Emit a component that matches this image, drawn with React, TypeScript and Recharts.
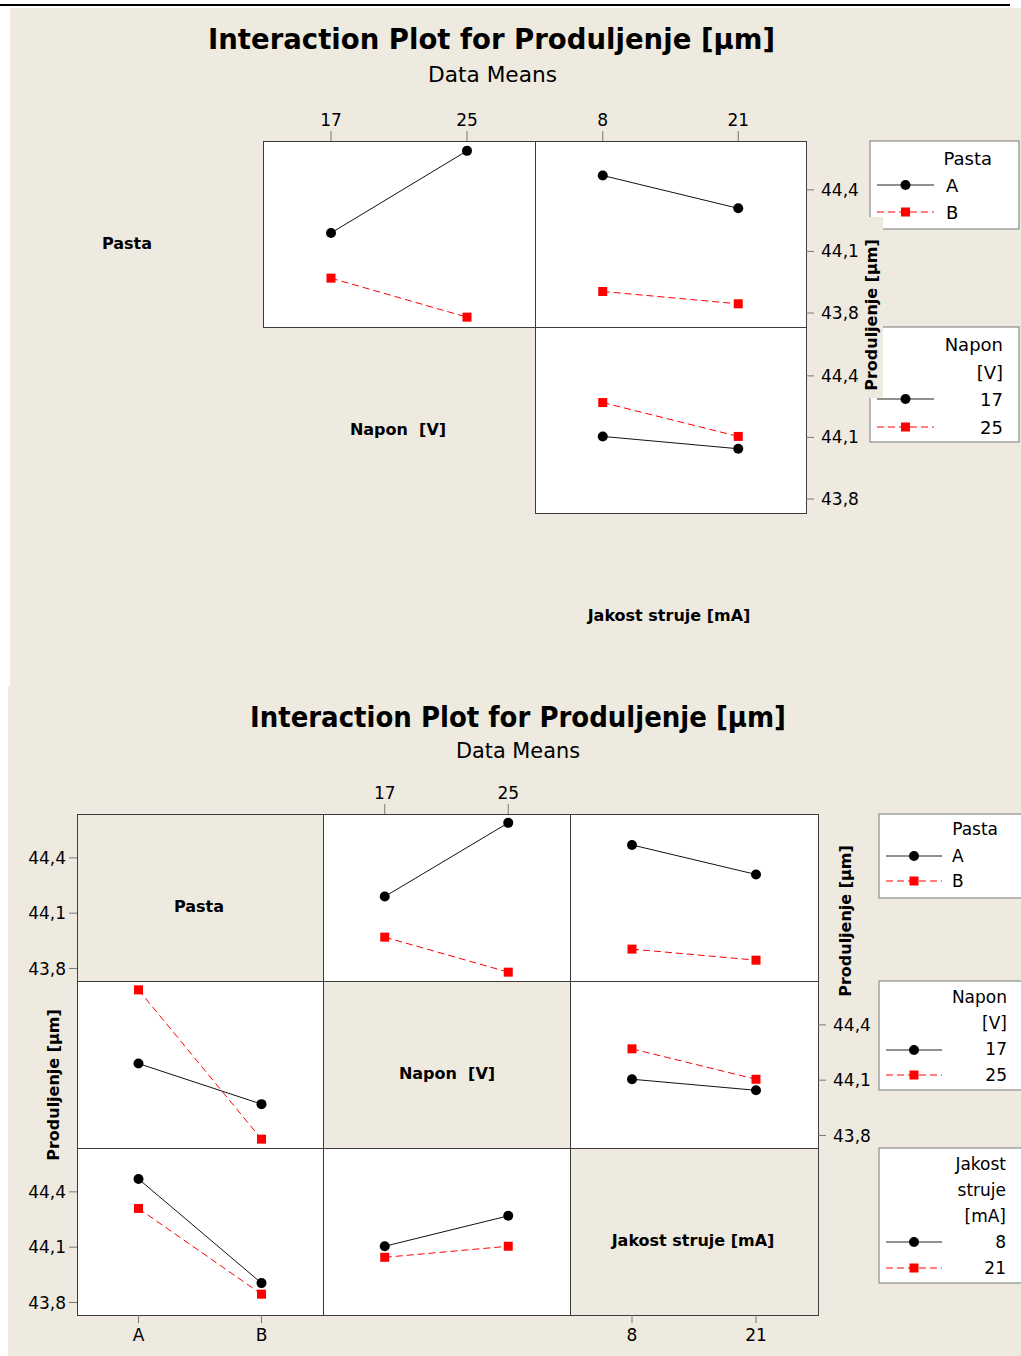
import React from 'react';
import { LineChart, Line, XAxis, YAxis } from 'recharts';

// factor levels
const pastaLevels = ['A', 'B'];
const naponLevels = ['17', '25'];
const jakostLevels = ['8', '21'];

// data means of Produljenje [µm]
// rows = levels of the first factor, columns = levels of the second factor
const pastaByNapon = [
  [44.19, 44.59], // A
  [43.97, 43.78], // B
];
const pastaByJakost = [
  [44.47, 44.31],
  [43.905, 43.845],
];
const naponByJakost = [
  [44.105, 44.045], // 17
  [44.27, 44.105], // 25
];

const yTicks = [43.8, 44.1, 44.4];
const yDomain: [number, number] = [43.732, 44.638];

const BG = '#EEEAE0';
const EDGE = '#3c3c3c';
const FONT = '"DejaVu Sans", Verdana, sans-serif';
const PAD = 60;

const fmtY = (v: number) => v.toFixed(1).replace('.', ',');

const circleDot = (p: any) => <circle key={`c${p.index}`} cx={p.cx} cy={p.cy} r={5} fill="#000" />;
const squareDot = (p: any) => (
  <rect key={`s${p.index}`} x={p.cx - 4.5} y={p.cy - 4.5} width={9} height={9} fill="#FF0000" />
);

interface PanelProps {
  left: number;
  top: number;
  width: number;
  height: number;
  xLabels: string[];
  means?: number[][];
  transpose?: boolean;
  xSide?: 'top' | 'bottom';
  ySide?: 'left' | 'right';
}

const Panel: React.FC<PanelProps> = ({ left, top, width, height, xLabels, means, transpose, xSide, ySide }) => {
  const data = xLabels.map((_, i) =>
    means
      ? {
          i,
          s0: transpose ? means[i][0] : means[0][i],
          s1: transpose ? means[i][1] : means[1][i],
        }
      : { i }
  );
  const tickFont = { fill: '#000', fontSize: 17, fontFamily: FONT };
  // visible axes take 1px of room, so shrink the margin on that side
  const margin = {
    top: PAD - (xSide === 'top' ? 1 : 0),
    bottom: PAD - (xSide === 'bottom' ? 1 : 0),
    left: PAD - (ySide === 'left' ? 1 : 0),
    right: PAD - (ySide === 'right' ? 1 : 0),
  };
  return (
    <div style={{ position: 'absolute', left: left - PAD, top: top - PAD }}>
      <LineChart width={width + 2 * PAD} height={height + 2 * PAD} data={data} margin={margin}>
        <XAxis
          type="number"
          dataKey="i"
          domain={[-0.5, 1.5]}
          ticks={[0, 1]}
          allowDataOverflow
          interval={0}
          orientation={xSide ?? 'bottom'}
          hide={!xSide}
          height={1}
          axisLine={false}
          tickLine={{ stroke: '#777' }}
          tickSize={xSide === 'top' ? 10 : 8}
          tickMargin={xSide === 'top' ? 5 : 6}
          tickFormatter={(v: number) => xLabels[v]}
          tick={tickFont}
        />
        <YAxis
          type="number"
          domain={yDomain}
          ticks={yTicks}
          allowDataOverflow
          interval={0}
          orientation={ySide ?? 'left'}
          hide={!ySide}
          width={1}
          axisLine={false}
          tickLine={{ stroke: '#777' }}
          tickSize={8}
          tickMargin={ySide === 'right' ? 7 : 3}
          tickFormatter={fmtY}
          tick={tickFont}
        />
        {means && (
          <Line dataKey="s0" stroke="#111" strokeWidth={1} dot={circleDot} activeDot={false} isAnimationActive={false} />
        )}
        {means && (
          <Line
            dataKey="s1"
            stroke="#FF0000"
            strokeWidth={1}
            strokeDasharray="7 4"
            dot={squareDot}
            activeDot={false}
            isAnimationActive={false}
          />
        )}
      </LineChart>
    </div>
  );
};

const Box = ({ x, y, w, h, fill }: { x: number; y: number; w: number; h: number; fill: string }) => (
  <div
    style={{
      position: 'absolute',
      left: x,
      top: y,
      width: w + 1,
      height: h + 1,
      boxSizing: 'border-box',
      border: `1px solid ${EDGE}`,
      background: fill,
    }}
  />
);

const LegendSymbol = ({ x1, x2, y, red }: { x1: number; x2: number; y: number; red?: boolean }) => {
  const mx = (x1 + x2) / 2;
  return (
    <g>
      <line x1={x1} x2={x2} y1={y} y2={y} stroke={red ? '#FF0000' : '#222'} strokeDasharray={red ? '7 4' : undefined} />
      {red ? <rect x={mx - 4.5} y={y - 4.5} width={9} height={9} fill="#FF0000" /> : <circle cx={mx} cy={y} r={5} fill="#000" />}
    </g>
  );
};

const T = (props: any) => (
  <text fontFamily={FONT} fill="#000" dominantBaseline="central" style={{ whiteSpace: 'pre' }} {...props} />
);

const cols = [77, 323, 570];
const colW = [246, 247, 248];
const rows = [814, 981, 1148];
const rowH = 167;

export default function App() {
  return (
    <div
      style={{
        position: 'absolute',
        left: 0,
        top: 0,
        width: 1021,
        height: 1356,
        overflow: 'hidden',
        background: '#fff',
      }}
    >
      <div style={{ position: 'absolute', left: 0, top: 4, width: 1010, height: 2, background: '#000' }} />
      <div style={{ position: 'absolute', left: 10, top: 8, width: 1011, height: 678, background: BG }} />
      <div style={{ position: 'absolute', left: 8, top: 686, width: 1013, height: 670, background: BG }} />

      {/* top figure: upper panels only */}
      <Box x={263} y={141} w={272} h={186} fill="#fff" />
      <Box x={535} y={141} w={271} h={186} fill="#fff" />
      <Box x={535} y={327} w={271} h={186} fill="#fff" />

      {/* bottom figure: full matrix */}
      {rows.map((ry, r) =>
        cols.map((cx, c) => <Box key={`b${r}${c}`} x={cx} y={ry} w={colW[c]} h={rowH} fill={r === c ? BG : '#fff'} />)
      )}

      <Panel left={263} top={141} width={272} height={186} xLabels={naponLevels} means={pastaByNapon} xSide="top" />
      <Panel left={535} top={141} width={271} height={186} xLabels={jakostLevels} means={pastaByJakost} xSide="top" ySide="right" />
      <Panel left={535} top={327} width={271} height={186} xLabels={jakostLevels} means={naponByJakost} ySide="right" />

      <Panel left={cols[0]} top={rows[0]} width={colW[0]} height={rowH} xLabels={pastaLevels} ySide="left" />
      <Panel left={cols[1]} top={rows[0]} width={colW[1]} height={rowH} xLabels={naponLevels} means={pastaByNapon} xSide="top" />
      <Panel left={cols[2]} top={rows[0]} width={colW[2]} height={rowH} xLabels={jakostLevels} means={pastaByJakost} />
      <Panel left={cols[0]} top={rows[1]} width={colW[0]} height={rowH} xLabels={pastaLevels} means={pastaByNapon} transpose />
      <Panel left={cols[2]} top={rows[1]} width={colW[2]} height={rowH} xLabels={jakostLevels} means={naponByJakost} ySide="right" />
      <Panel left={cols[0]} top={rows[2]} width={colW[0]} height={rowH} xLabels={pastaLevels} means={pastaByJakost} transpose xSide="bottom" ySide="left" />
      <Panel left={cols[1]} top={rows[2]} width={colW[1]} height={rowH} xLabels={naponLevels} means={naponByJakost} transpose />
      <Panel left={cols[2]} top={rows[2]} width={colW[2]} height={rowH} xLabels={jakostLevels} xSide="bottom" />

      <svg
        width={1021}
        height={1356}
        style={{ position: 'absolute', left: 0, top: 0, pointerEvents: 'none' }}
      >
        {/* top figure */}
        <T x={208} y={39} fontSize={29} fontWeight="bold" textLength={567} lengthAdjust="spacingAndGlyphs">
          Interaction Plot for Produljenje [µm]
        </T>
        <T x={428} y={74} fontSize={22} textLength={129} lengthAdjust="spacingAndGlyphs">
          Data Means
        </T>
        <T x={127} y={243} fontSize={16} fontWeight="bold" textAnchor="middle">Pasta</T>
        <T x={398} y={429} fontSize={16} fontWeight="bold" textAnchor="middle">Napon  [V]</T>
        <T x={669} y={615} fontSize={16} fontWeight="bold" textAnchor="middle">Jakost struje [mA]</T>

        <rect x={870} y={141} width={149} height={88} fill="#fff" stroke="#777" />
        <T x={992} y={158} fontSize={18} textAnchor="end">Pasta</T>
        <LegendSymbol x1={877} x2={934} y={185} />
        <T x={946} y={185} fontSize={18}>A</T>
        <LegendSymbol x1={877} x2={934} y={212} red />
        <T x={946} y={212} fontSize={18}>B</T>

        <rect x={870} y={327} width={149} height={115} fill="#fff" stroke="#777" />
        <T x={1003} y={344} fontSize={18} textAnchor="end">Napon</T>
        <T x={1003} y={372} fontSize={18} textAnchor="end">[V]</T>
        <LegendSymbol x1={877} x2={934} y={399} />
        <T x={1003} y={399} fontSize={18} textAnchor="end">17</T>
        <LegendSymbol x1={877} x2={934} y={427} red />
        <T x={1003} y={427} fontSize={18} textAnchor="end">25</T>

        <g transform="translate(871,315) rotate(-90)">
          <rect x={-83} y={-11} width={181} height={23} fill={BG} />
          <T x={0} y={0} fontSize={16} fontWeight="bold" textAnchor="middle">Produljenje [µm]</T>
        </g>

        {/* bottom figure */}
        <T x={250} y={717} fontSize={29} fontWeight="bold" textLength={536} lengthAdjust="spacingAndGlyphs">
          Interaction Plot for Produljenje [µm]
        </T>
        <T x={456} y={750} fontSize={22} textLength={124} lengthAdjust="spacingAndGlyphs">
          Data Means
        </T>
        <T x={199} y={906} fontSize={16} fontWeight="bold" textAnchor="middle">Pasta</T>
        <T x={447} y={1073} fontSize={16} fontWeight="bold" textAnchor="middle">Napon  [V]</T>
        <T x={693} y={1240} fontSize={16} fontWeight="bold" textAnchor="middle">Jakost struje [mA]</T>

        <g transform="translate(53,1085) rotate(-90)">
          <T x={0} y={0} fontSize={16} fontWeight="bold" textAnchor="middle">Produljenje [µm]</T>
        </g>
        <g transform="translate(845,921) rotate(-90)">
          <T x={0} y={0} fontSize={16} fontWeight="bold" textAnchor="middle">Produljenje [µm]</T>
        </g>

        <rect x={879} y={814} width={160} height={84} fill="#fff" stroke="#777" />
        <T x={998} y={829} fontSize={17} textAnchor="end">Pasta</T>
        <LegendSymbol x1={886} x2={942} y={856} />
        <T x={952} y={856} fontSize={17}>A</T>
        <LegendSymbol x1={886} x2={942} y={881} red />
        <T x={952} y={881} fontSize={17}>B</T>

        <rect x={879} y={981} width={160} height={109} fill="#fff" stroke="#777" />
        <T x={1007} y={997} fontSize={17} textAnchor="end">Napon</T>
        <T x={1007} y={1023} fontSize={17} textAnchor="end">[V]</T>
        <LegendSymbol x1={886} x2={942} y={1050} />
        <T x={1007} y={1049} fontSize={17} textAnchor="end">17</T>
        <LegendSymbol x1={886} x2={942} y={1075} red />
        <T x={1007} y={1075} fontSize={17} textAnchor="end">25</T>

        <rect x={879} y={1148} width={160} height={135} fill="#fff" stroke="#777" />
        <T x={1006} y={1164} fontSize={17} textAnchor="end">Jakost</T>
        <T x={1006} y={1190} fontSize={17} textAnchor="end">struje</T>
        <T x={1006} y={1216} fontSize={17} textAnchor="end">[mA]</T>
        <LegendSymbol x1={886} x2={942} y={1242} />
        <T x={1006} y={1242} fontSize={17} textAnchor="end">8</T>
        <LegendSymbol x1={886} x2={942} y={1268} red />
        <T x={1006} y={1268} fontSize={17} textAnchor="end">21</T>
      </svg>
    </div>
  );
}
